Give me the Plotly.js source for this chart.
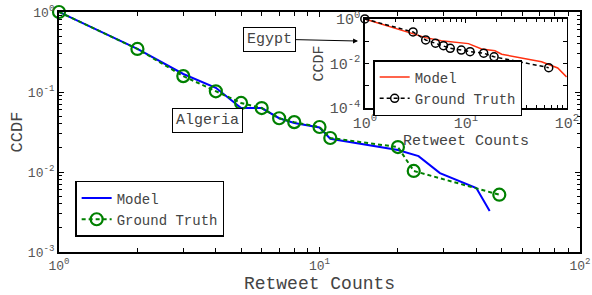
<!DOCTYPE html>
<html>
<head>
<meta charset="utf-8">
<script src="https://cdn.plot.ly/plotly-3.0.1.min.js"></script>
<style>html,body{margin:0;padding:0;background:#fff;}#chart{width:592px;height:295px;}</style>
</head>
<body>
<div id="chart"></div>
<script>
// Main chart (Algeria)
const algGtX = [1, 2, 3, 4, 5, 6, 7, 8, 10, 11, 20, 23, 49];
const algGtY = [1, 0.345, 0.158, 0.102, 0.073, 0.063, 0.047, 0.042, 0.0365, 0.0266, 0.0205, 0.0103, 0.0052];
const algModelX = [1, 2, 3, 4, 5, 6, 7, 8, 10, 11, 20, 24, 29, 40, 45];
const algModelY = [1, 0.345, 0.168, 0.113, 0.063, 0.063, 0.047, 0.041, 0.036, 0.026, 0.0188, 0.0158, 0.0097, 0.0063, 0.00325];

// Inset chart (Egypt)
const egyGtX = [1, 3, 4, 5, 6, 7, 9, 11, 15, 19, 66];
const egyGtY = [1, 0.26, 0.114, 0.081, 0.063, 0.048, 0.04, 0.034, 0.029, 0.02, 0.0065];
const egyModelX = [1, 1.7, 3, 4, 5.7, 7.8, 10.6, 14.3, 19.4, 22.6, 35.7, 56, 81, 99];
const egyModelY = [1, 0.48, 0.21, 0.145, 0.106, 0.092, 0.078, 0.045, 0.037, 0.026, 0.017, 0.012, 0.0063, 0.0025];

// Tick labels
const mainXTickVals = [1, 10, 100];
const mainXTickText = ['10<sup>0</sup>', '10<sup>1</sup>', '10<sup>2</sup>'];
const mainYTickVals = [1, 0.1, 0.01, 0.001];
const mainYTickText = ['10<sup>0</sup>', '10<sup>-1</sup>', '10<sup>-2</sup>', '10<sup>-3</sup>'];
const insetYTickVals = [1, 0.01, 0.0001];
const insetYTickText = ['10<sup>0</sup>', '10<sup>-2</sup>', '10<sup>-4</sup>'];
const insetYMinorVals = [0.1, 0.001];

function minorVals(lo, hi) {
  const v = [];
  for (let e = lo; e < hi; e++) for (let m = 2; m <= 9; m++) v.push(m * Math.pow(10, e));
  return v;
}

const FONT = 'Liberation Mono, Courier New, monospace';

const traces = [
  {x: algModelX, y: algModelY, name: 'Model', mode: 'lines',
   line: {color: '#0000ff', width: 2}, xaxis: 'x', yaxis: 'y', legend: 'legend'},
  {x: algGtX, y: algGtY, name: 'Ground Truth', mode: 'lines+markers', cliponaxis: false,
   line: {color: '#008000', width: 2, dash: '4px,3px'},
   marker: {symbol: 'circle-open', size: 12, color: '#008000', line: {width: 2.2, color: '#008000'}},
   xaxis: 'x', yaxis: 'y', legend: 'legend'},
  {x: egyModelX, y: egyModelY, name: 'Model', mode: 'lines',
   line: {color: '#ff3010', width: 1.5}, xaxis: 'x2', yaxis: 'y2', legend: 'legend2'},
  {x: egyGtX, y: egyGtY, name: 'Ground Truth', mode: 'lines+markers', cliponaxis: false,
   line: {color: '#000000', width: 1.5, dash: '4px,3px'},
   marker: {symbol: 'circle-open', size: 8, color: '#000', line: {width: 1.5, color: '#000'}},
   xaxis: 'x2', yaxis: 'y2', legend: 'legend2'}
];

const axCommon = {
  type: 'log', showline: true, linecolor: '#000', mirror: 'ticks',
  ticks: 'inside', tickcolor: '#000', showgrid: false, zeroline: false,
  tickmode: 'array'
};

const layout = {
  width: 592, height: 295,
  margin: {l: 59, r: 12, t: 12, b: 43},
  paper_bgcolor: '#fff', plot_bgcolor: '#fff',
  font: {family: FONT, color: '#444'},
  xaxis: Object.assign({}, axCommon, {
    domain: [0, 1], range: [0, 2], linewidth: 2, ticklen: 5, tickwidth: 1,
    tickvals: mainXTickVals, ticktext: mainXTickText,
    tickfont: {size: 13, color: '#555', family: FONT},
    minor: {tickvals: minorVals(0, 2), ticks: 'inside', ticklen: 4, tickcolor: '#000'},
    title: {text: 'Retweet Counts', font: {size: 18, color: '#444', family: FONT}, standoff: 4}
  }),
  yaxis: Object.assign({}, axCommon, {
    domain: [0, 1], range: [-3, 0], linewidth: 2, ticklen: 5, tickwidth: 1,
    tickvals: mainYTickVals, ticktext: mainYTickText,
    tickfont: {size: 13, color: '#555', family: FONT},
    minor: {tickvals: minorVals(-3, 0), ticks: 'inside', ticklen: 3, tickcolor: '#000'},
    title: {text: 'CCDF', font: {size: 17, color: '#444', family: FONT}, standoff: 1}
  }),
  xaxis2: Object.assign({}, axCommon, {
    domain: [0.587, 0.975], range: [0, 2], anchor: 'y2', linewidth: 1.5, ticklen: 4,
    tickvals: mainXTickVals, ticktext: mainXTickText,
    tickfont: {size: 15, color: '#555', family: FONT},
    minor: {tickvals: minorVals(0, 2), ticks: 'inside', ticklen: 3, tickcolor: '#000'},
    title: {text: 'Retweet Counts', font: {size: 15, color: '#444', family: FONT}, standoff: 0}
  }),
  yaxis2: Object.assign({}, axCommon, {
    domain: [0.6, 0.971], range: [-4, 0], anchor: 'x2', linewidth: 1.5, ticklen: 4,
    tickvals: insetYTickVals, ticktext: insetYTickText,
    tickfont: {size: 15, color: '#555', family: FONT},
    minor: {tickvals: insetYMinorVals, ticks: 'inside', ticklen: 4, tickcolor: '#000'},
    title: {text: 'CCDF', font: {size: 15, color: '#444', family: FONT}, standoff: 2}
  }),
  legend: {
    x: 0.031, y: 0.296, xanchor: 'left', yanchor: 'top',
    bgcolor: '#fff', bordercolor: '#000', borderwidth: 1.5,
    font: {size: 14, color: '#444', family: FONT},
    tracegroupgap: 0, itemwidth: 30
  },
  legend2: {
    x: 0.603, y: 0.8, xanchor: 'left', yanchor: 'top',
    bgcolor: '#fff', bordercolor: '#000', borderwidth: 1.5,
    font: {size: 14, color: '#444', family: FONT},
    tracegroupgap: 0, itemwidth: 30
  },
  annotations: [
    {text: 'Algeria', xref: 'paper', yref: 'paper', x: 0.216, y: 0.548,
     showarrow: false, font: {size: 15, color: '#444', family: FONT},
     bgcolor: '#fff', bordercolor: '#000', borderwidth: 1, borderpad: 3},
    {text: 'Egypt', xref: 'paper', yref: 'paper', x: 0.574, y: 0.879,
     showarrow: true, ax: -89, ay: -2, arrowhead: 2, arrowsize: 1, arrowwidth: 1, arrowcolor: '#000',
     font: {size: 15, color: '#444', family: FONT},
     bgcolor: '#fff', bordercolor: '#000', borderwidth: 1, borderpad: 3}
  ],
  showlegend: true
};

Plotly.newPlot('chart', traces, layout, {staticPlot: true, displayModeBar: false});
</script>
</body>
</html>
